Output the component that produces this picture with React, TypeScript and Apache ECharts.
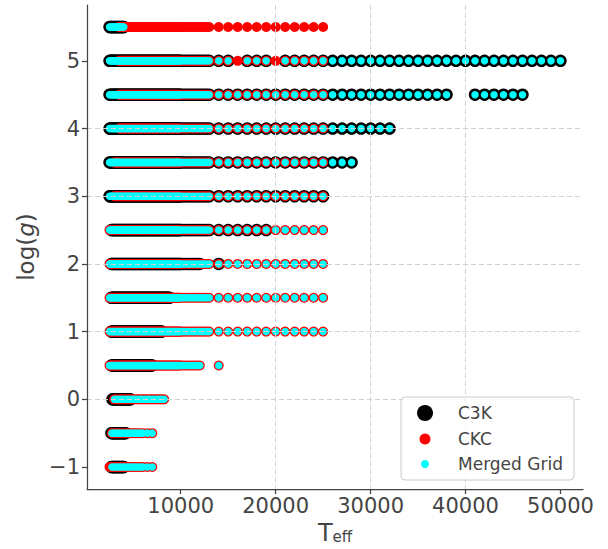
import React, { useEffect, useRef } from 'react';
import * as echarts from 'echarts';

// Axis ticks
const X_TICKS = [10000, 20000, 30000, 40000, 50000];
const Y_TICKS = [-1, 0, 1, 2, 3, 4, 5];
const X_MIN = 125;
const X_MAX = 52375;
const Y_MIN = -1.325;
const Y_MAX = 5.825;

// Grid rows: [log g, [[Teff start, Teff end, Teff step], ...]]
type Seg = [number, number, number];
type Row = [number, Seg[]];

const C3K_ROWS: Row[] = [
  [5.5, [[2500, 4000, 100]]],
  [5.0, [[2500, 10000, 100], [10250, 13000, 250], [14000, 15000, 1000], [17000, 19000, 1000], [21000, 50000, 1000]]],
  [4.5, [[2500, 10000, 100], [10250, 13000, 250], [14000, 38000, 1000], [41000, 46000, 1000]]],
  [4.0, [[2500, 10000, 100], [10250, 13000, 250], [14000, 32000, 1000]]],
  [3.5, [[2500, 10000, 100], [10250, 13000, 250], [14000, 28000, 1000]]],
  [3.0, [[2500, 10000, 100], [10250, 13000, 250], [14000, 25000, 1000]]],
  [2.5, [[2700, 10000, 100], [10250, 13000, 250], [14000, 19000, 1000]]],
  [2.0, [[2700, 10000, 100], [10250, 12000, 250], [14000, 14000, 1000]]],
  [1.5, [[2700, 8800, 100]]],
  [1.0, [[2700, 8000, 100]]],
  [0.5, [[2700, 7000, 100]]],
  [0.0, [[2800, 4700, 100]]],
  [-0.5, [[2700, 4200, 100]]],
  [-1.0, [[2700, 4000, 100]]],
];

const CKC_ROWS: Row[] = [
  [5.5, [[3500, 10000, 100], [10250, 13000, 250], [14000, 25000, 1000]]],
  [5.0, [[3500, 10000, 100], [10250, 13000, 250], [14000, 25000, 1000]]],
  [4.5, [[3500, 10000, 100], [10250, 13000, 250], [14000, 25000, 1000]]],
  [4.0, [[3500, 10000, 100], [10250, 13000, 250], [14000, 25000, 1000]]],
  [3.5, [[3000, 10000, 100], [10250, 13000, 250], [14000, 25000, 1000]]],
  [3.0, [[3000, 10000, 100], [10250, 13000, 250], [14000, 25000, 1000]]],
  [2.5, [[2500, 10000, 100], [10250, 13000, 250], [14000, 25000, 1000]]],
  [2.0, [[2500, 10000, 100], [10250, 13000, 250], [14000, 25000, 1000]]],
  [1.5, [[2500, 10000, 100], [10250, 13000, 250], [14000, 25000, 1000]]],
  [1.0, [[2500, 10000, 100], [10250, 13000, 250], [14000, 25000, 1000]]],
  [0.5, [[2500, 10000, 100], [10250, 12000, 250], [14000, 14000, 1000]]],
  [0.0, [[3000, 8250, 250]]],
  [-0.5, [[2750, 6000, 250], [6500, 7000, 500]]],
  [-1.0, [[2500, 6000, 250], [6500, 7000, 500]]],
];

const MERGED_ROWS: Row[] = [
  [5.5, [[2500, 4000, 100]]],
  [5.0, [[2500, 10000, 100], [10250, 13000, 250], [14000, 15000, 1000], [17000, 19000, 1000], [21000, 50000, 1000]]],
  [4.5, [[2500, 10000, 100], [10250, 13000, 250], [14000, 38000, 1000], [41000, 46000, 1000]]],
  [4.0, [[2500, 10000, 100], [10250, 13000, 250], [14000, 32000, 1000]]],
  [3.5, [[2500, 10000, 100], [10250, 13000, 250], [14000, 28000, 1000]]],
  [3.0, [[2500, 10000, 100], [10250, 13000, 250], [14000, 25000, 1000]]],
  [2.5, [[2500, 10000, 100], [10250, 13000, 250], [14000, 25000, 1000]]],
  [2.0, [[2500, 10000, 100], [10250, 13000, 250], [14000, 25000, 1000]]],
  [1.5, [[2500, 10000, 100], [10250, 13000, 250], [14000, 25000, 1000]]],
  [1.0, [[2500, 10000, 100], [10250, 13000, 250], [14000, 25000, 1000]]],
  [0.5, [[2500, 10000, 100], [10250, 12000, 250], [14000, 14000, 1000]]],
  [0.0, [[3000, 8250, 250]]],
  [-0.5, [[2750, 6000, 250], [6500, 7000, 500]]],
  [-1.0, [[2750, 6000, 250], [6500, 7000, 500]]],
];

function expandRows(rows: Row[]): [number, number][] {
  const out: [number, number][] = [];
  for (const [logg, segs] of rows) {
    for (const [a, b, step] of segs) {
      for (let t = a; t <= b + 1e-6; t += step) out.push([t, logg]);
    }
  }
  return out;
}

const FONT = 'DejaVu Sans';
const TXT = '#444444';

export default function App() {
  const ref = useRef<HTMLDivElement>(null);
  useEffect(() => {
    if (!ref.current) return;
    const chart = echarts.init(ref.current, undefined, { renderer: 'svg' });
    const gridLine = { color: '#d2d2d2', type: [5, 3] as any, width: 1 };
    const axisLineStyle = { color: TXT, width: 1.25 };
    const mkLegend = (name: string, cy: number, size: number) => ({
      data: [{ name, icon: 'circle' }],
      left: 425 - size / 2,
      top: cy - 10,
      orient: 'vertical',
      padding: 0,
      itemWidth: size,
      itemHeight: size,
      selectedMode: false,
      z: 5,
      textStyle: {
        fontSize: 17,
        color: TXT,
        fontFamily: FONT,
        lineHeight: 20,
        padding: [0, 0, 0, 458 - (425 - size / 2 + size + 5)],
      },
    });
    chart.setOption({
      animation: false,
      textStyle: { fontFamily: FONT },
      grid: { left: 87, right: 25, top: 5, bottom: 60, containLabel: false, outerBoundsMode: 'none' },
      graphic: [
        {
          type: 'rect',
          z: 4,
          shape: { x: 401, y: 397, width: 173, height: 83, r: 4 },
          style: { fill: 'rgba(255,255,255,0.8)', stroke: '#cccccc', lineWidth: 1 },
        },
      ],
      legend: [mkLegend('C3K', 413, 16), mkLegend('CKC', 439, 11), mkLegend('Merged Grid', 464, 8)],
      xAxis: {
        type: 'value',
        min: X_MIN,
        max: X_MAX,
        z: 3,
        axisLine: { show: true, onZero: false, lineStyle: axisLineStyle },
        axisTick: { show: true, customValues: X_TICKS, length: 5, lineStyle: axisLineStyle },
        axisLabel: {
          customValues: X_TICKS,
          fontSize: 21,
          color: TXT,
          margin: 6,
          fontFamily: FONT,
          formatter: (v: number) => String(v),
        },
        splitLine: { show: true, showMinLine: false, showMaxLine: false, lineStyle: gridLine },
        name: '{a|T}{b|eff}',
        nameLocation: 'middle',
        nameGap: 31,
        nameTextStyle: {
          rich: {
            a: { fontSize: 24, color: TXT, fontFamily: FONT, lineHeight: 24, verticalAlign: 'bottom' },
            b: { fontSize: 15, color: TXT, fontFamily: FONT, lineHeight: 14, verticalAlign: 'bottom' },
          },
        },
      },
      yAxis: {
        type: 'value',
        min: Y_MIN,
        max: Y_MAX,
        z: 3,
        axisLine: { show: true, onZero: false, lineStyle: axisLineStyle },
        axisTick: { show: true, customValues: Y_TICKS, length: 5, lineStyle: axisLineStyle },
        axisLabel: {
          customValues: Y_TICKS,
          fontSize: 21,
          color: TXT,
          margin: 7,
          fontFamily: FONT,
          formatter: (v: number) => String(v).replace('-', '\u2212'),
        },
        splitLine: { show: true, showMinLine: false, showMaxLine: false, lineStyle: gridLine },
        name: '{a|log(}{b|g}{a|)}',
        nameLocation: 'middle',
        nameRotate: 90,
        nameGap: 50,
        nameTextStyle: {
          rich: {
            a: { fontSize: 23, color: TXT, fontFamily: FONT },
            b: { fontSize: 23, color: TXT, fontFamily: FONT, fontStyle: 'italic' },
          },
        },
      },
      series: [
        {
          name: 'C3K',
          type: 'scatter',
          data: expandRows(C3K_ROWS),
          symbolSize: 12.5,
          itemStyle: { color: '#000000', opacity: 1 },
          silent: true,
          z: 2,
        },
        {
          name: 'CKC',
          type: 'scatter',
          data: expandRows(CKC_ROWS),
          symbolSize: 10,
          itemStyle: { color: '#ff0000', opacity: 1 },
          silent: true,
          z: 2,
        },
        {
          name: 'Merged Grid',
          type: 'scatter',
          data: expandRows(MERGED_ROWS),
          symbolSize: 7.5,
          itemStyle: { color: '#00ffff', opacity: 1 },
          silent: true,
          z: 2,
        },
      ],
    });
    return () => chart.dispose();
  }, []);
  return (
    <div
      ref={ref}
      style={{ position: 'fixed', left: 0, top: 0, width: 608, height: 549, background: '#ffffff' }}
    />
  );
}
